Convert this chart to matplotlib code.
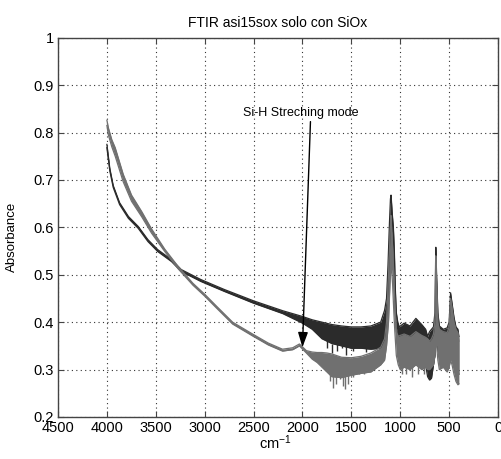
import matplotlib
matplotlib.use("Agg")
import matplotlib.pyplot as plt

plt.rcParams['font.family'] = ['Liberation Sans', 'DejaVu Sans']
plt.rcParams['mathtext.default'] = 'regular'

# spettro scuro (asi15sox), banda inferiore / superiore
dark_x = [4000, 3970, 3935, 3870, 3780, 3680, 3580, 3480, 3340, 3240, 3040, 2800, 2500, 2200,
          2000, 1900, 1800, 1700, 1600, 1500, 1400, 1300, 1200, 1160, 1140, 1125, 1110, 1100,
          1094, 1088, 1080, 1070, 1060, 1050, 1040, 1025, 1010, 960, 900, 840, 780, 740, 720,
          700, 680, 660, 645, 636, 628, 615, 600, 560, 520, 500, 485, 470, 450, 430, 410, 400]
dark_lo = [0.768, 0.719, 0.684, 0.648, 0.619, 0.598, 0.570, 0.549, 0.528, 0.507, 0.486, 0.465, 0.440, 0.418,
           0.398, 0.385, 0.365, 0.355, 0.350, 0.345, 0.345, 0.343, 0.345, 0.360, 0.400, 0.450, 0.520, 0.580,
           0.600, 0.590, 0.570, 0.530, 0.470, 0.420, 0.390, 0.370, 0.360, 0.330, 0.325, 0.325, 0.320, 0.310, 0.285,
           0.278, 0.282, 0.310, 0.330, 0.380, 0.370, 0.340, 0.330, 0.325, 0.315, 0.325, 0.340, 0.330, 0.310, 0.300, 0.295, 0.290]
dark_hi = [0.775, 0.724, 0.688, 0.652, 0.623, 0.602, 0.574, 0.553, 0.532, 0.511, 0.490, 0.469, 0.445, 0.424,
           0.412, 0.405, 0.400, 0.395, 0.392, 0.390, 0.390, 0.392, 0.400, 0.425, 0.450, 0.520, 0.610, 0.660,
           0.668, 0.650, 0.625, 0.600, 0.550, 0.470, 0.420, 0.400, 0.390, 0.398, 0.392, 0.408, 0.395, 0.385, 0.370,
           0.380, 0.385, 0.390, 0.420, 0.558, 0.500, 0.420, 0.392, 0.385, 0.388, 0.400, 0.462, 0.440, 0.410, 0.390, 0.385, 0.370]

# spettro grigio (SiOx)
gray_x = [4000, 3985, 3950, 3915, 3833, 3748, 3643, 3544, 3408, 3273, 3120, 3000, 2880, 2714, 2510,
          2350, 2204, 2100, 2031, 1960, 1900, 1850, 1800, 1750, 1700, 1600, 1500, 1400, 1300, 1200,
          1160, 1140, 1120, 1105, 1095, 1088, 1078, 1065, 1055, 1040, 1020, 1000, 960, 900, 840, 780,
          740, 720, 700, 680, 660, 645, 636, 628, 615, 600, 560, 520, 500, 485, 470, 450, 430, 410, 400]
gray_lo = [0.815, 0.795, 0.770, 0.750, 0.696, 0.655, 0.622, 0.588, 0.549, 0.513, 0.478, 0.455, 0.430, 0.396, 0.371,
           0.352, 0.339, 0.342, 0.350, 0.335, 0.322, 0.315, 0.305, 0.295, 0.285, 0.283, 0.288, 0.292, 0.295, 0.310,
           0.320, 0.350, 0.400, 0.480, 0.520, 0.510, 0.480, 0.420, 0.380, 0.330, 0.310, 0.300, 0.305, 0.300, 0.310, 0.300,
           0.305, 0.300, 0.300, 0.305, 0.310, 0.330, 0.360, 0.350, 0.320, 0.300, 0.305, 0.295, 0.305, 0.320, 0.310, 0.290, 0.275, 0.268, 0.270]
gray_hi = [0.826, 0.810, 0.785, 0.768, 0.712, 0.668, 0.633, 0.597, 0.554, 0.518, 0.482, 0.459, 0.434, 0.400, 0.375,
           0.356, 0.343, 0.346, 0.354, 0.340, 0.337, 0.336, 0.336, 0.335, 0.333, 0.326, 0.325, 0.328, 0.335, 0.347,
           0.365, 0.400, 0.500, 0.580, 0.625, 0.600, 0.560, 0.500, 0.440, 0.380, 0.370, 0.372, 0.375, 0.370, 0.380, 0.372,
           0.368, 0.365, 0.360, 0.365, 0.375, 0.400, 0.540, 0.480, 0.400, 0.385, 0.380, 0.378, 0.390, 0.450, 0.430, 0.400, 0.385, 0.378, 0.360]

# picchi di rumore verso il basso
dark_spike_x = [1750, 1700, 1650, 1600, 1550, 1480, 1350]
dark_spike_lo = [0.345, 0.335, 0.340, 0.345, 0.330, 0.340, 0.338]
gray_spike_x = [1760, 1720, 1690, 1660, 1620, 1590, 1560, 1530, 1480, 1420, 1370, 980, 940, 880, 820, 760]
gray_spike_lo = [0.300, 0.275, 0.262, 0.270, 0.280, 0.265, 0.260, 0.270, 0.285, 0.290, 0.290, 0.290, 0.290, 0.285, 0.290, 0.290]

x_ticks = [4500, 4000, 3500, 3000, 2500, 2000, 1500, 1000, 500, 0]
y_ticks = [0.2, 0.3, 0.4, 0.5, 0.6, 0.7, 0.8, 0.9, 1.0]
y_ticklabels = ['0.2', '0.3', '0.4', '0.5', '0.6', '0.7', '0.8', '0.9', '1']

dark_c = '#2b2b2b'
gray_c = '#707070'

fig = plt.figure(figsize=(5.01, 4.59), dpi=100)
ax = fig.add_axes([58 / 501, 42 / 459, 440 / 501, 379.3 / 459])

# scuro sotto, grigio sopra
ax.fill_between(dark_x, dark_lo, dark_hi, color=dark_c, linewidth=0, zorder=2)
ax.plot(dark_x, dark_lo, color=dark_c, lw=0.9, zorder=2)
ax.plot(dark_x, dark_hi, color=dark_c, lw=0.9, zorder=2)
ax.vlines(dark_spike_x, dark_spike_lo, [v + 0.02 for v in dark_spike_lo], color=dark_c, lw=1, zorder=2)

ax.fill_between(gray_x, gray_lo, gray_hi, color=gray_c, linewidth=0, zorder=3)
ax.plot(gray_x, gray_lo, color=gray_c, lw=0.9, zorder=3)
ax.plot(gray_x, gray_hi, color=gray_c, lw=0.9, zorder=3)
ax.vlines(gray_spike_x, gray_spike_lo, [v + 0.03 for v in gray_spike_lo], color=gray_c, lw=1, zorder=3)

# annotazione
ax.annotate('', xy=(2000, 0.347), xytext=(1918, 0.823), zorder=4,
            arrowprops=dict(arrowstyle='-|>,head_length=0.9,head_width=0.3',
                            color='black', lw=1, shrinkA=0, shrinkB=0))
ax.text(2603, 0.841, 'Si-H Streching mode', fontsize=9, va='center', ha='left')

ax.set_xlim(4500, 0)
ax.set_ylim(0.2, 1.0)
ax.set_xticks(x_ticks)
ax.set_yticks(y_ticks)
ax.set_yticklabels(y_ticklabels)
ax.tick_params(direction='in', top=True, right=True, length=4, labelsize=10.5, pad=3, color='#444444')
ax.grid(True, linestyle=(0, (1, 3)), color='#333333', lw=0.8)
for s in ax.spines.values():
    s.set_color('#444444')
    s.set_linewidth(1)

ax.set_title('FTIR asi15sox solo con SiOx', fontsize=10, pad=8)
ax.set_ylabel('Absorbance', fontsize=9.5)
ax.yaxis.set_label_coords(-0.09, 0.475)
ax.set_xlabel('cm$^{-1}$', fontsize=10.5)
ax.xaxis.set_label_coords(0.493, -0.042)

fig.savefig('out.png', dpi=100)
